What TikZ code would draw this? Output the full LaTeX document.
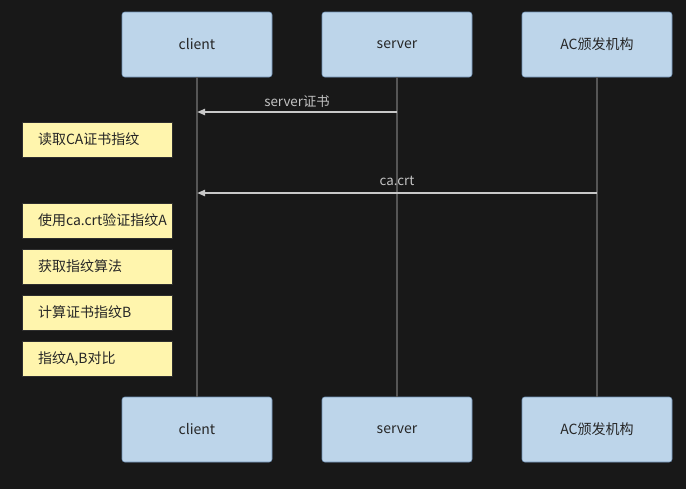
\documentclass[tikz,border=0pt]{standalone}
\usepackage{fontspec}
\setmainfont{Noto Sans CJK SC}
\usetikzlibrary{arrows.meta}
\usepackage{xcolor}
\definecolor{bgcol}{HTML}{181818}
\definecolor{actorfill}{HTML}{BDD5EA}
\definecolor{actorline}{HTML}{6E8FB2}
\definecolor{notefill}{HTML}{FFF5AD}
\definecolor{noteline}{HTML}{2E2E2E}
\definecolor{lifecol}{HTML}{555555}
\definecolor{msgcol}{HTML}{C8C8C8}

\begin{document}
\begin{tikzpicture}[x=0.75pt, y=-0.75pt]
 \tikzstyle{actor}=[draw=actorline, fill=actorfill, rounded corners=2pt,
                    minimum width=112.5pt, minimum height=48.75pt, inner sep=0pt,
                    text=black!85, font=\fontsize{10.5}{12}\selectfont]
 \tikzstyle{note}=[draw=noteline, fill=notefill, text width=88.5pt, inner xsep=12pt,
                   inner ysep=0pt, minimum height=26.25pt, align=left,
                   text=black!85, font=\fontsize{10.5}{12}\selectfont]
 \tikzstyle{life}=[draw=lifecol, line width=1pt]
 \tikzstyle{msg}=[draw=msgcol, line width=1.5pt, -{Triangle[length=6pt, width=4.5pt]}]
 \tikzstyle{msglabel}=[text=msgcol!110, font=\fontsize{10}{12}\selectfont, inner sep=1pt]

\fill[bgcol] (0,0) rectangle (686,489);

% participants
\node[actor] (clienttop) at (197,44.5) {client};
\node[actor] (servertop) at (397,44.5) {server};
\node[actor] (actop) at (597,44.5) {AC颁发机构};
\node[actor] (clientbot) at (197,429.5) {client};
\node[actor] (serverbot) at (397,429.5) {server};
\node[actor] (acbot) at (597,429.5) {AC颁发机构};

% lifelines
\path[life]
   (clienttop) edge (clientbot)
   (servertop) edge (serverbot)
   (actop) edge (acbot);

% messages
\coordinate (srvout) at (397,112);
\coordinate (cltin1) at (197,112);
\coordinate (acout) at (597,193);
\coordinate (cltin2) at (197,193);
\draw[msg] (srvout) -- (cltin1);
\node[msglabel] (lblcert) at (297,101) {server证书};
\draw[msg] (acout) -- (cltin2);
\node[msglabel] (lblca) at (397,181) {ca.crt};

% notes
\node[note] (readfp) at (97,139.5) {读取CA证书指纹};
\node[note] (verifya) at (97,220.5) {使用ca.crt验证指纹A};
\node[note] (getalg) at (97,266.5) {获取指纹算法};
\node[note] (calcb) at (97,312.5) {计算证书指纹B};
\node[note] (compare) at (97,358.5) {指纹A,B对比};
\end{tikzpicture}
\end{document}
